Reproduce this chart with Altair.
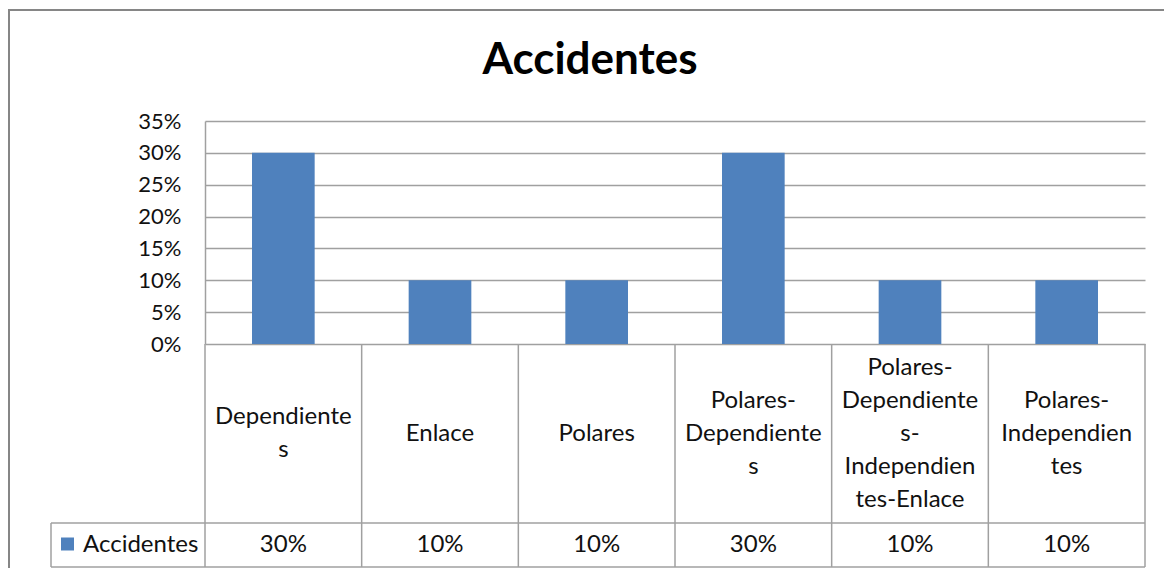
import altair as alt
import pandas as pd

# ---- data ----
categories = [
    "Dependientes",
    "Enlace",
    "Polares",
    "Polares-Dependientes",
    "Polares-Dependientes-Independientes-Enlace",
    "Polares-Independientes",
]
category_lines = [
    ["Dependiente", "s"],
    ["Enlace"],
    ["Polares"],
    ["Polares-", "Dependiente", "s"],
    ["Polares-", "Dependiente", "s-", "Independien", "tes-Enlace"],
    ["Polares-", "Independien", "tes"],
]
values = [0.30, 0.10, 0.10, 0.30, 0.10, 0.10]
y_ticks = [0, 0.05, 0.10, 0.15, 0.20, 0.25, 0.30, 0.35]
series_name = "Accidentes"
chart_title = "Accidentes"

df = pd.DataFrame({
    "cat": categories,
    "value": values,
    "label": ["\n".join(l) for l in category_lines],
    "nlines": [len(l) for l in category_lines],
})
one = pd.DataFrame({"k": [0]})

FONT = "Lato"
GRID = "#a0a0a0"
BLUE = "#4F81BD"
TXT = "#111111"
W, H = 940, 223
ROW_SPLIT = 402   # header / value row boundary (relative to plot top)
TABLE_BOTTOM = 446
LINE_H = 33
HEADER_CENTER = (H + ROW_SPLIT) / 2

xscale = alt.Scale(paddingInner=0, paddingOuter=0)
x = alt.X("cat:N", sort=categories, scale=xscale, axis=None)

bars = alt.Chart(df).mark_bar(width=alt.RelativeBandSize(0.4), color=BLUE).encode(
    x=x,
    y=alt.Y(
        "value:Q",
        scale=alt.Scale(domain=[0, 0.35]),
        axis=alt.Axis(
            values=y_ticks, format=".0%", grid=True, gridColor=GRID, gridWidth=1.5,
            ticks=False, domainColor=GRID, domainWidth=1.5, labelFont=FONT,
            labelFontSize=22, labelColor=TXT, labelPadding=24, title=None,
        ),
    ),
)

# category header text cells, vertically centred per line count
header_layers = []
for n in sorted(set(df["nlines"])):
    header_layers.append(
        alt.Chart(df).transform_filter(alt.datum.nlines == n).mark_text(
            font=FONT, fontSize=24, lineBreak="\n", lineHeight=LINE_H,
            baseline="middle", align="center", color=TXT,
        ).encode(x=x, y=alt.value(HEADER_CENTER - (n - 1) / 2 * LINE_H), text="label:N")
    )

# value row text
value_text = alt.Chart(df).mark_text(
    font=FONT, fontSize=24, baseline="middle", align="center", color=TXT,
).encode(x=x, y=alt.value(424), text=alt.Text("value:Q", format=".0%"))

# table vertical lines at band edges
vlines_left = alt.Chart(df).mark_rule(color=GRID, strokeWidth=1.5).encode(
    x=alt.X("cat:N", sort=categories, scale=xscale, axis=None, bandPosition=0),
    y=alt.value(H), y2=alt.value(TABLE_BOTTOM),
)
vlines_right = alt.Chart(df.tail(1)).mark_rule(color=GRID, strokeWidth=1.5).encode(
    x=alt.X("cat:N", sort=categories, scale=xscale, axis=None, bandPosition=1),
    y=alt.value(H), y2=alt.value(TABLE_BOTTOM),
)

def hline(x1, x2, yv, color=GRID, sw=1.5):
    return alt.Chart(one).mark_rule(color=color, strokeWidth=sw).encode(
        x=alt.value(x1), x2=alt.value(x2), y=alt.value(yv))

def vline(xv, y1, y2, color=GRID, sw=1.5):
    return alt.Chart(one).mark_rule(color=color, strokeWidth=sw).encode(
        x=alt.value(xv), y=alt.value(y1), y2=alt.value(y2))

row_line = hline(-154, W, ROW_SPLIT)
bottom_line = hline(-154, W, TABLE_BOTTOM)
legend_left = vline(-154, ROW_SPLIT, TABLE_BOTTOM)

legend_square = alt.Chart(one).mark_square(color=BLUE, opacity=1, size=169).encode(
    x=alt.value(-137.5), y=alt.value(423))
legend_text = alt.Chart(one).mark_text(
    font=FONT, fontSize=24, align="left", baseline="middle", color=TXT,
).encode(x=alt.value(-122), y=alt.value(424), text=alt.value(series_name))

title = alt.Chart(one).mark_text(
    font=FONT, fontSize=44, fontWeight="bold", align="center",
    baseline="alphabetic", color="black",
).encode(x=alt.value(385), y=alt.value(-47), text=alt.value(chart_title))

# outer chart border (top and left visible)
border_top = hline(-197, W + 19, -111, color="#868686", sw=2)
border_left = vline(-196, -112, H + 224, color="#868686", sw=2)

chart = alt.layer(
    bars, *header_layers, value_text, vlines_left, vlines_right,
    row_line, bottom_line, legend_left, legend_square, legend_text,
    title, border_top, border_left,
).properties(
    width=W, height=H,
    autosize=alt.AutoSizeParams(type="none"),
    padding={"left": 197, "top": 113, "right": 19, "bottom": 224},
    background="white",
).configure_view(strokeWidth=0)

chart.save("out.html", embed_options={"renderer": "svg", "actions": False})
